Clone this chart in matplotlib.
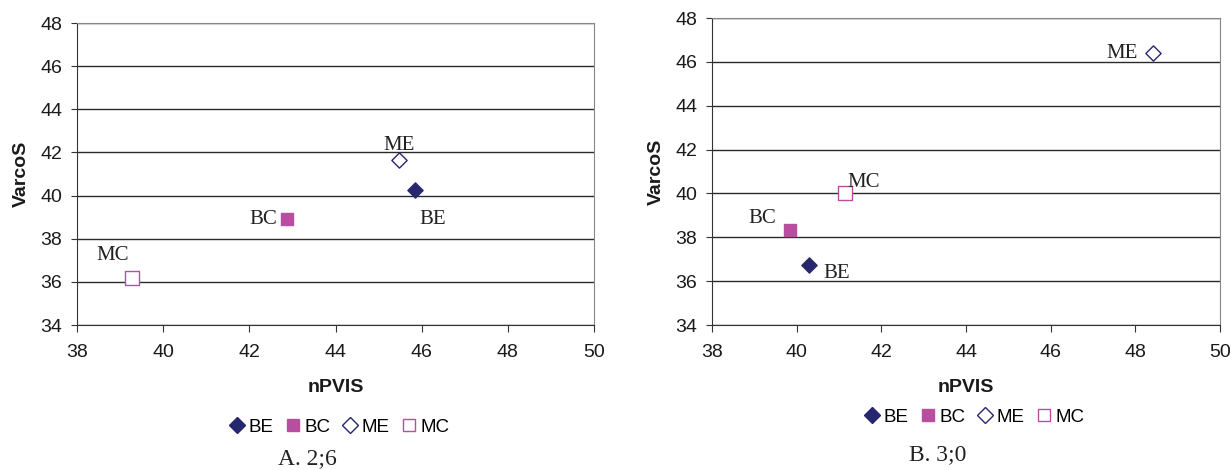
import matplotlib
matplotlib.use("Agg")
import matplotlib.pyplot as plt
from matplotlib.lines import Line2D

# Data
categories = ["BE", "BC", "ME", "MC"]
a_x = [45.85, 42.87, 45.47, 39.28]
a_y = [40.28, 38.9, 41.65, 36.16]
b_x = [40.3, 39.84, 48.42, 41.14]
b_y = [36.75, 38.32, 46.4, 40.04]
x_ticks = [38, 40, 42, 44, 46, 48, 50]
y_ticks = [34, 36, 38, 40, 42, 44, 46, 48]
captions = ["A. 2;6", "B. 3;0"]

navy = "#27276F"
magenta = "#B84E9F"
styles = {
    "BE": dict(marker="D", facecolor=navy, edgecolor=navy, size=60),
    "BC": dict(marker="s", facecolor=magenta, edgecolor=magenta, size=80),
    "ME": dict(marker="D", facecolor="white", edgecolor=navy, size=60),
    "MC": dict(marker="s", facecolor="white", edgecolor=magenta, size=95),
}

# label offsets in data units (dx, dy)
a_lbl = {"BE": (0.40, -1.38), "BC": (-0.55, 0.0),
         "ME": (0.0, 0.68), "MC": (-0.45, 1.05)}
b_lbl = {"BE": (0.64, -0.42), "BC": (-0.65, 0.52),
         "ME": (-0.73, 0.0), "MC": (0.44, 0.48)}

plt.rcParams['font.family'] = ['Liberation Sans', 'DejaVu Sans']
fig = plt.figure(figsize=(12.31, 4.70), dpi=100)
W, H = 1231.0, 470.0


def draw(ax, xs, ys, lbl, leg_pos, caption, cap_pos, box):
    x0, x1, top, bot = box
    ax.set_xlim(38, 50)
    ax.set_ylim(34, 48)
    ax.set_xticks(x_ticks)
    ax.set_yticks(y_ticks)
    ax.tick_params(labelsize=14, direction="out", color="#333333", labelcolor="#1a1a1a")
    ax.tick_params(axis="x", length=5, pad=9)
    ax.tick_params(axis="y", length=4.5, pad=6)
    for y in y_ticks:
        ax.axhline(y, color="#2a2a2a", lw=1.0, zorder=1)
    for s in ["left", "bottom"]:
        ax.spines[s].set_color("#333333")
    for s in ["top", "right"]:
        ax.spines[s].set_color("#888888")
    for c, x, y in zip(categories, xs, ys):
        st = styles[c]
        ax.scatter([x], [y], marker=st["marker"], s=st["size"],
                   facecolors=st["facecolor"], edgecolors=st["edgecolor"],
                   linewidths=1.0, zorder=3)
        dx, dy = lbl[c]
        ax.text(x + dx, y + dy, c, ha="center", va="center", fontsize=15,
                family="Liberation Serif", color="#222222", zorder=4)
    ax.set_xlabel("nPVIS", fontsize=14, fontweight="bold", color="#1a1a1a")
    ax.set_ylabel("VarcoS", fontsize=14, fontweight="bold", color="#1a1a1a")
    ax.xaxis.label.set_va("center")
    ax.xaxis.set_label_coords(0.5, (bot - 387) / (bot - top))
    ax.yaxis.label.set_va("center")
    ax.yaxis.set_label_coords((x0 - 55.5 - x0 + x0 - x0) / (x1 - x0) if False else -55.5 / (x1 - x0), 0.5)
    handles = []
    for c in categories:
        st = styles[c]
        handles.append(Line2D([], [], ls="none", marker=st["marker"],
                              markersize=8.5 if st["marker"] == "s" else 8,
                              markerfacecolor=st["facecolor"],
                              markeredgecolor=st["edgecolor"], markeredgewidth=1.0))
    fig.legend(handles=handles, labels=categories, loc="center",
               bbox_to_anchor=leg_pos, ncol=4, frameon=False, fontsize=13.5,
               handletextpad=0.15, columnspacing=0.6, handlelength=0.9,
               borderpad=0)
    fig.text(cap_pos[0], cap_pos[1], caption, ha="center", va="center",
             fontsize=17, family="Liberation Serif", color="#222222")


def pos(box):
    x0, x1, ytop, ybot = box
    return [x0 / W, 1 - ybot / H, (x1 - x0) / W, (ybot - ytop) / H]


box1 = (77, 594, 23, 325)
box2 = (712, 1220, 18, 325)
ax1 = fig.add_axes(pos(box1))
draw(ax1, a_x, a_y, a_lbl, (339 / W, 1 - 427 / H), captions[0],
     (307 / W, 1 - 459 / H), box1)
ax2 = fig.add_axes(pos(box2))
draw(ax2, b_x, b_y, b_lbl, (974 / W, 1 - 417 / H), captions[1],
     (938 / W, 1 - 455 / H), box2)

fig.savefig("out.png", dpi=100)
